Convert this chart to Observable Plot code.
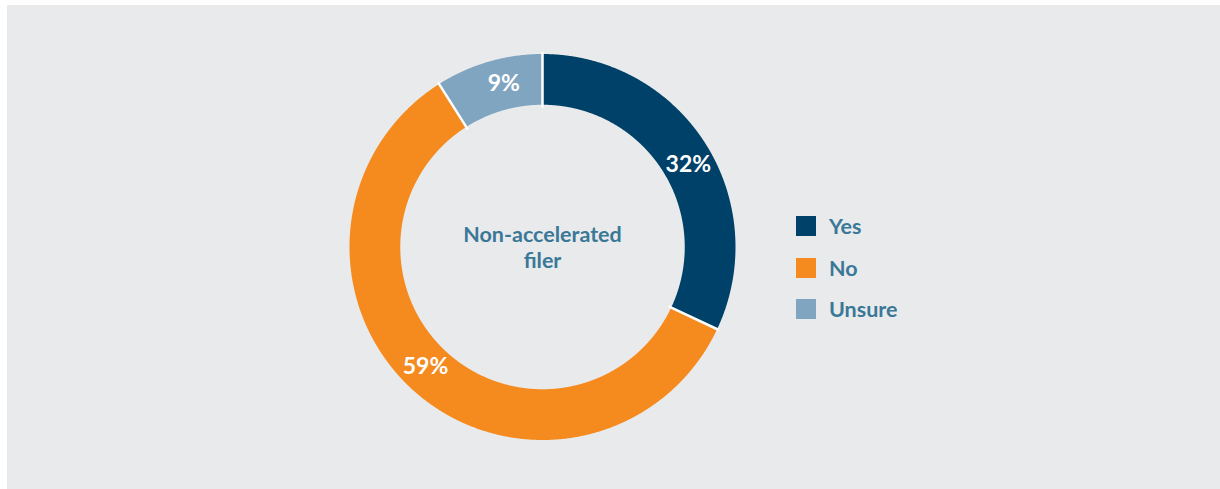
<!DOCTYPE html>
<html>
<head>
<meta charset="utf-8">
<script src="https://cdn.jsdelivr.net/npm/d3@7"></script>
<script src="https://cdn.jsdelivr.net/npm/@observablehq/plot@0.6"></script>
<style>
  html, body { margin: 0; padding: 0; background: #ffffff; }
  #page { position: relative; width: 1220px; height: 489px; overflow: hidden; font-family: Lato, "Noto Sans", sans-serif; }
  #panel { position: absolute; left: 7px; top: 5px; right: 0; bottom: 0; background: #e9eaeb; }
  #chart { position: absolute; left: 0; top: 0; }
  #legend { position: absolute; left: 796px; top: 216px; }
  .item { display: flex; align-items: center; height: 20px; margin-bottom: 21.5px; }
  .sw { width: 20px; height: 20px; margin-right: 13px; flex: none; }
  .lab { font-size: 21.5px; font-weight: 700; color: #3a7898; line-height: 20px; }
</style>
</head>
<body>
<div id="page">
  <div id="panel"></div>
  <div id="chart"></div>
  <div id="legend"></div>
</div>
<script>
const categories = ["Yes", "No", "Unsure"];
const values = [32, 59, 9];
const colors = ["#00416a", "#f58a1f", "#7fa5c0"];
const centerLabel = "Non-accelerated\nfiler";

const innerRatio = 0.737;
const midRatio = (1 + innerRatio) / 2;
const labelTurn = 0.05;
const arcs = d3.pie().sort(null)(values).map((a, i) => ({...a, cat: categories[i]}));

const pts = [];
for (const a of arcs) {
  const n = Math.ceil((a.endAngle - a.startAngle) / 0.004);
  for (let k = 0; k <= n; k++) {
    const t = a.startAngle + (a.endAngle - a.startAngle) * k / n;
    pts.push({cat: a.cat, x: Math.sin(t), y: Math.cos(t)});
  }
  for (let k = n; k >= 0; k--) {
    const t = a.startAngle + (a.endAngle - a.startAngle) * k / n;
    pts.push({cat: a.cat, x: innerRatio * Math.sin(t), y: innerRatio * Math.cos(t)});
  }
}
const mid = a => (a.startAngle + a.endAngle) / 2 + labelTurn;

const chart = Plot.plot({
  width: 1220,
  height: 489,
  margin: 0,
  style: {background: "transparent", fontFamily: "Lato, 'Noto Sans', sans-serif"},
  x: {domain: [-1, 1], range: [349, 735], axis: null},
  y: {domain: [-1, 1], range: [439.5, 53.5], axis: null},
  color: {domain: categories, range: colors},
  marks: [
    Plot.line(pts, {x: "x", y: "y", z: "cat", fill: "cat", stroke: "none"}),
    Plot.link(arcs, {
      x1: a => innerRatio * 0.98 * Math.sin(a.startAngle),
      y1: a => innerRatio * 0.98 * Math.cos(a.startAngle),
      x2: a => 1.01 * Math.sin(a.startAngle),
      y2: a => 1.01 * Math.cos(a.startAngle),
      stroke: "#ffffff", strokeWidth: 2.5
    }),
    Plot.text(arcs, {
      x: a => midRatio * Math.sin(mid(a)),
      y: a => midRatio * Math.cos(mid(a)),
      text: a => a.value + "%",
      fill: "#ffffff", fontSize: 23, fontWeight: 700
    }),
    Plot.text([centerLabel], {
      x: () => 0, y: () => 0,
      text: d => d,
      fill: "#3a7898", fontSize: 21.5, fontWeight: 700, lineHeight: 1.2
    })
  ]
});
document.getElementById("chart").appendChild(chart);

const legend = document.getElementById("legend");
categories.forEach((c, i) => {
  const it = document.createElement("div");
  it.className = "item";
  it.innerHTML = `<div class="sw" style="background:${colors[i]}"></div><div class="lab">${c}</div>`;
  legend.appendChild(it);
});
</script>
</body>
</html>
